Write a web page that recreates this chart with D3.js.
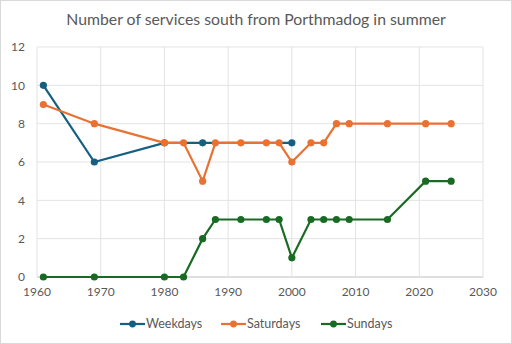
<!DOCTYPE html>
<html>
<head>
<meta charset="utf-8">
<script src="https://cdn.jsdelivr.net/npm/d3@7.9.0/dist/d3.min.js"></script>
<style>
  body { margin: 0; background: #fff; }
  svg { font-family: Lato, "Open Sans", sans-serif; }
</style>
</head>
<body>
<svg width="512" height="344"></svg>
<script>
// data
const weekdayYears = [1961, 1969, 1980, 1986, 2000];
const weekdayValues = [10, 6, 7, 7, 7];
const satYears = [1961, 1969, 1980, 1983, 1986, 1988, 1992, 1996, 1998, 2000, 2003, 2005, 2007, 2009, 2015, 2021, 2025];
const satValues = [9, 8, 7, 7, 5, 7, 7, 7, 7, 6, 7, 7, 8, 8, 8, 8, 8];
const sunYears = satYears;
const sunValues = [0, 0, 0, 0, 2, 3, 3, 3, 3, 1, 3, 3, 3, 3, 3, 5, 5];
const xTicks = [1960, 1970, 1980, 1990, 2000, 2010, 2020, 2030];
const yTicks = [0, 2, 4, 6, 8, 10, 12];

const series = [
  { name: 'Weekdays', color: '#156082', years: weekdayYears, values: weekdayValues },
  { name: 'Saturdays', color: '#e97132', years: satYears, values: satValues },
  { name: 'Sundays', color: '#196b24', years: sunYears, values: sunValues }
];

const svg = d3.select('svg');
const margin = { top: 47, right: 29, bottom: 67, left: 37 };
const w = 512 - margin.left - margin.right;
const h = 344 - margin.top - margin.bottom;

// outer border
svg.append('rect')
  .attr('x', 0.5).attr('y', 0.5)
  .attr('width', 511).attr('height', 343)
  .attr('fill', 'none').attr('stroke', '#d9d9d9');

svg.append('text')
  .attr('x', 256).attr('y', 25)
  .attr('text-anchor', 'middle')
  .attr('font-size', 15.8)
  .attr('fill', '#595959')
  .text('Number of services south from Porthmadog in summer');

const g = svg.append('g').attr('transform', `translate(${margin.left},${margin.top})`);

const x = d3.scaleLinear().domain([1960, 2030]).range([0, w]);
const y = d3.scaleLinear().domain([0, 12]).range([h, 0]);

// gridlines
g.selectAll('.hgrid').data(yTicks).join('line')
  .attr('x1', 0).attr('x2', w)
  .attr('y1', d => y(d)).attr('y2', d => y(d))
  .attr('stroke', d => d === 0 ? '#bfbfbf' : '#e3e3e3');
g.selectAll('.vgrid').data(xTicks).join('line')
  .attr('y1', 0).attr('y2', h)
  .attr('x1', d => x(d)).attr('x2', d => x(d))
  .attr('stroke', '#e3e3e3');

// tick labels
g.selectAll('.ylab').data(yTicks).join('text')
  .attr('x', -12).attr('y', d => y(d)).attr('dy', '0.35em')
  .attr('text-anchor', 'end')
  .attr('font-size', 12).attr('fill', '#595959')
  .text(d => d);
g.selectAll('.xlab').data(xTicks).join('text')
  .attr('x', d => x(d)).attr('y', h + 19)
  .attr('text-anchor', 'middle')
  .attr('font-size', 12).attr('fill', '#595959')
  .text(d => d);

const line = d3.line().x(d => x(d[0])).y(d => y(d[1]));

series.forEach(s => {
  const pts = s.years.map((yr, i) => [yr, s.values[i]]);
  g.append('path')
    .datum(pts)
    .attr('d', line)
    .attr('fill', 'none')
    .attr('stroke', s.color)
    .attr('stroke-width', 2.2);
  g.selectAll(null).data(pts).join('circle')
    .attr('cx', d => x(d[0])).attr('cy', d => y(d[1]))
    .attr('r', 3.6)
    .attr('fill', s.color);
});

// legend
const legendX = [120, 221, 321];
const legend = svg.append('g').attr('transform', 'translate(0,324)');
series.forEach((s, i) => {
  const lg = legend.append('g').attr('transform', `translate(${legendX[i]},0)`);
  lg.append('line').attr('x1', 0).attr('x2', 25).attr('stroke', s.color).attr('stroke-width', 2.2);
  lg.append('circle').attr('cx', 12.5).attr('r', 3.4).attr('fill', s.color);
  lg.append('text').attr('x', 26).attr('dy', '0.35em')
    .attr('font-size', 12.5).attr('fill', '#595959')
    .text(s.name);
});
</script>
</body>
</html>
